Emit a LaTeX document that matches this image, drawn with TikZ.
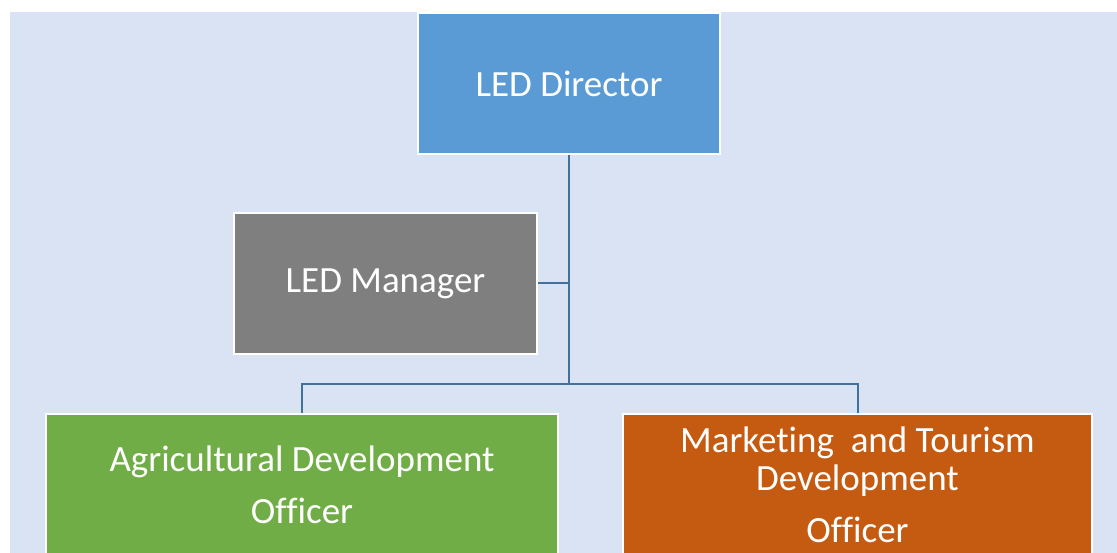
\documentclass[tikz,border=0pt]{standalone}
\usepackage{fontspec}
\setmainfont{Carlito}[Ligatures=NoCommon]
\definecolor{ledback}{HTML}{DAE3F3}
\definecolor{ledline}{HTML}{41719C}
\definecolor{ledblue}{HTML}{5B9BD5}
\definecolor{ledgrey}{HTML}{7F7F7F}
\definecolor{ledgreen}{HTML}{70AD47}
\definecolor{ledorange}{HTML}{C55A11}
\tikzset{
  post/.style={draw=white, line width=2pt, text=white, align=center,
    minimum height=141pt, inner sep=0pt,
    font=\fontsize{37}{38}\selectfont},
  link/.style={draw=ledline, line width=2pt}
}

\begin{document}
\begin{tikzpicture}[x=1pt, y=-1pt]
  \useasboundingbox (0,0) rectangle (1117,553);
  \clip (0,0) rectangle (1117,553);
  \fill[ledback] (10,12) rectangle (1117,553);
  \node[post, fill=ledblue, minimum width=302pt] (director) at (569,83.5) {LED Director};
  \node[post, fill=ledgrey, minimum width=303pt] (manager) at (385.5,283.5) {LED Manager};
  \node[post, fill=ledgreen, minimum width=512pt] (agri) at (302,484.5)
    {Agricultural Development\\[14pt] Officer};
  \node[post, fill=ledorange, minimum width=469pt] (market) at (857.5,484.5)
    {Marketing\ \ and Tourism\\ Development\\[14pt] Officer};
  \coordinate (junction) at (569,384);
  \draw[link] (director.south) -- (junction);
  \draw[link] (manager.east) -- (manager.east -| director.south);
  \draw[link] (agri.north) |- (junction) -| (market.north);
\end{tikzpicture}
\end{document}
